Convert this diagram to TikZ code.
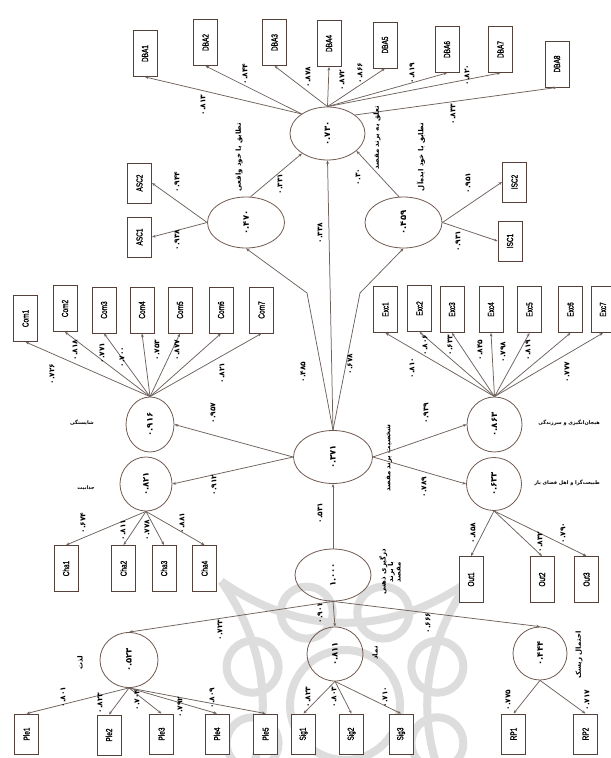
\documentclass[tikz,border=0pt]{standalone}
\usepackage{fontspec}
\usetikzlibrary{shapes.geometric,arrows.meta}
\TeXXeTstate=1
\newfontfamily\fa[Script=Arabic]{DejaVu Sans}
\newfontfamily\narrow[FakeStretch=0.74,FakeBold=1.2]{Liberation Sans}
\newcommand\rot[1]{\rotatebox{90}{#1}}
\newcommand\fatxt[1]{\fa\beginR #1\endR}
\definecolor{linec}{HTML}{6E625C}
\definecolor{ellc}{HTML}{705A50}
\definecolor{boxc}{HTML}{54423A}
\definecolor{markc}{HTML}{DDDDDD}
\tikzset{
  link/.style={draw=linec, line width=0.75pt, -{Stealth[length=3.6pt,width=2.8pt]}},
  latent/.style={ellipse, draw=ellc, line width=0.8pt, inner sep=0, font=\fa\bfseries\fontsize{8.5}{9}\selectfont},
  ind/.style={rectangle, draw=boxc, line width=0.9pt, minimum width=24bp, minimum height=46bp, inner sep=0, fill=white, font=\narrow\fontsize{8.8}{9}\selectfont},
  indshort/.style={ind, minimum height=40bp},
  coef/.style={rotate=90, font=\fa\bfseries\fontsize{7.5}{8}\selectfont, inner sep=0.5pt},
  fname/.style={rotate=90, font=\fa\bfseries\fontsize{7}{7.5}\selectfont, inner sep=0, align=center},
  hname/.style={font=\fa\bfseries\fontsize{5}{5.5}\selectfont, inner sep=0}
}
\begin{document}
\begin{tikzpicture}[x=1bp,y=-1bp]
\useasboundingbox (0,0) rectangle (611,758);
\fill[white] (0,0) rectangle (611,758);

% faint ornamental rosette in the background
\begin{scope}
  \clip (0,0) rectangle (611,758);
  \begin{scope}[draw=markc, line width=8bp]
    \foreach \a in {0,45,...,315}
      \draw (345,705) ++(\a+22.5:100) circle[radius=26];
    \foreach \a in {0,90,180,270}
      \draw ([shift={(\a+45:175)}]345,705) to[bend right=35] ([shift={(\a+135:175)}]345,705);
    \draw (345,705) circle[radius=55];
  \end{scope}
\end{scope}

% ---------- destination brand attachment block ----------
\node[latent, minimum width=75bp, minimum height=53bp] (dba) at (327.5,133.5) {\rot{۰.۷۳۰}};
\node[ind] (dba1) at (145,53.5) {\rot{DBA1}};
\node[ind] (dba2) at (205.5,42.5) {\rot{DBA2}};
\node[ind] (dba3) at (274.5,42.5) {\rot{DBA3}};
\node[ind] (dba4) at (329,43.5) {\rot{DBA4}};
\node[ind] (dba5) at (385,45) {\rot{DBA5}};
\node[ind] (dba6) at (447,49.5) {\rot{DBA6}};
\node[ind] (dba7) at (500.5,49.5) {\rot{DBA7}};
\node[ind] (dba8) at (557,64) {\rot{DBA8}};
\draw[link] (dba.143) -- (dba1.south);
\draw[link] (dba.143) -- (dba2.south);
\draw[link] (dba.north) -- (dba3.south);
\draw[link] (dba.north) -- (dba4.south);
\draw[link] (dba.north) -- (dba5.south);
\draw[link] (dba.north) -- (dba6.south);
\draw[link] (dba.north) -- (dba7.south);
\draw[link] (dba.34) -- (dba8.south);
\node[coef] at (203,105) {۰.۸۱۳};
\node[coef] at (245,74) {۰.۸۴۴};
\node[coef] at (308,77) {۰.۸۷۸};
\node[coef] at (342,80) {۰.۸۷۲};
\node[coef] at (360,73) {۰.۸۶۶};
\node[coef] at (412,73) {۰.۸۱۹};
\node[coef] at (467,75) {۰.۸۲۰};
\node[coef] at (453,114) {۰.۸۳۳};
\node[fname] at (377,138) {\fatxt{تعلق به برند مقصد}};

% ---------- self-congruence blocks ----------
\node[latent, minimum width=77bp, minimum height=51bp] (asc) at (246,222.5) {\rot{۰.۴۷۰}};
\node[indshort] (asc1) at (139.5,237) {\rot{ASC1}};
\node[indshort] (asc2) at (139.5,183) {\rot{ASC2}};
\draw[link] (asc.west) -- (asc1.east);
\draw[link] (asc.west) -- (asc2.east);
\node[coef] at (177,240) {۰.۹۳۸};
\node[coef] at (177,182) {۰.۹۴۴};
\draw[link] (asc.80) -- (dba.218);
\node[coef] at (280,184) {۰.۳۳۱};
\node[fname] at (239,157) {\fatxt{تطابق با خود واقعی}};

\node[latent, minimum width=77bp, minimum height=51bp] (isc) at (403.5,222.5) {\rot{۰.۴۵۹}};
\node[indshort] (isc1) at (510,241) {\rot{ISC1}};
\node[indshort] (isc2) at (514.5,182) {\rot{ISC2}};
\draw[link] (isc.east) -- (isc1.west);
\draw[link] (isc.east) -- (isc2.west);
\node[coef] at (458,241) {۰.۹۳۱};
\node[coef] at (468,183) {۰.۹۵۱};
\draw[link] (isc.100) -- (dba.-31);
\node[coef] at (358,177) {۰.۳۰};
\node[fname] at (421,157) {\fatxt{تطابق با خود ایده‌آل}};

% ---------- destination brand personality ----------
\node[latent, minimum width=79bp, minimum height=53bp] (cen) at (333,457) {\rot{۰.۳۷۱}};
\node[fname] at (389,458) {\fatxt{شخصیت برند مقصد}};
\coordinate (bendA) at (307,293);
\coordinate (bendI) at (360,293);
\draw[link] (cen.north) -- (dba.south);
\draw[link] (cen.north) -- (bendA) -- (asc.south);
\draw[link] (cen.north) -- (bendI) -- (isc.south);
\node[coef] at (320,233) {۰.۳۳۸};
\node[coef] at (303,372) {۰.۴۸۵};
\node[coef] at (350,364) {۰.۶۷۸};

% competence
\node[latent, minimum width=48bp, minimum height=55bp] (com) at (150,424.5) {\rot{۰.۹۱۶}};
\node[hname] at (82,423) {\fatxt{شایستگی}};
\draw[link] (cen.west) -- (com.east);
\node[coef] at (213,413) {۰.۹۵۷};
\node[ind] (com1) at (25.5,318.5) {\rot{Com1}};
\node[ind] (com2) at (65,308.5) {\rot{Com2}};
\node[ind] (com3) at (104,310) {\rot{Com3}};
\node[ind] (com4) at (142,310) {\rot{Com4}};
\node[ind] (com5) at (180,310) {\rot{Com5}};
\node[ind] (com6) at (221,310) {\rot{Com6}};
\node[ind] (com7) at (261.5,310) {\rot{Com7}};
\foreach \i in {1,...,7} \draw[link] (com.north) -- (com\i.south);
\node[coef] at (52,374) {۰.۷۲۶};
\node[coef] at (75,350) {۰.۸۱۸};
\node[coef] at (102,353) {۰.۷۷۱};
\node[coef] at (122,357) {۰.۷۰۰};
\node[coef] at (157,350) {۰.۷۵۳};
\node[coef] at (177,350) {۰.۸۷۷};
\node[coef] at (222,373) {۰.۸۲۱};

% charm
\node[latent, minimum width=52bp, minimum height=54bp] (cha) at (146,484) {\rot{۰.۸۲۱}};
\node[hname] at (86,488) {\fatxt{جذابیت}};
\draw[link] (cen.west) -- (cha.east);
\node[coef] at (214,485) {۰.۹۱۲};
\node[ind] (cha1) at (66,568.5) {\rot{Cha1}};
\node[ind] (cha2) at (123.5,568.5) {\rot{Cha2}};
\node[ind] (cha3) at (164,568.5) {\rot{Cha3}};
\node[ind] (cha4) at (204.5,568.5) {\rot{Cha4}};
\foreach \i in {1,...,4} \draw[link] (cha.south) -- (cha\i.north);
\node[coef] at (83,523) {۰.۶۷۴};
\node[coef] at (123,530) {۰.۸۱۱};
\node[coef] at (147,530) {۰.۷۷۸};
\node[coef] at (182,523) {۰.۸۸۱};

% excitement
\node[latent, minimum width=55bp, minimum height=55bp] (exc) at (494.5,424.5) {\rot{۰.۸۶۳}};
\node[hname] at (569,423) {\fatxt{هیجان‌انگیزی و سرزندگی}};
\draw[link] (cen.east) -- (exc.west);
\node[coef] at (426,413) {۰.۹۳۹};
\node[ind] (exc1) at (385.5,309.5) {\rot{Exc1}};
\node[ind] (exc2) at (419.5,308.5) {\rot{Exc2}};
\node[ind] (exc3) at (452,309.5) {\rot{Exc3}};
\node[ind] (exc4) at (491,309.5) {\rot{Exc4}};
\node[ind] (exc5) at (529.5,309.5) {\rot{Exc5}};
\node[ind] (exc6) at (570.5,309.5) {\rot{Exc6}};
\node[ind] (exc7) at (603,309.5) {\rot{Exc7}};
\foreach \i in {1,...,7} \draw[link] (exc.north) -- (exc\i.south);
\node[coef] at (412,368) {۰.۸۱۰};
\node[coef] at (425,345) {۰.۸۰۶};
\node[coef] at (450,345) {۰.۶۳۳};
\node[coef] at (480,350) {۰.۸۴۵};
\node[coef] at (503,352) {۰.۷۹۸};
\node[coef] at (528,350) {۰.۸۱۹};
\node[coef] at (567,372) {۰.۷۷۷};

% outdoorsiness
\node[latent, minimum width=55bp, minimum height=53bp] (out) at (494,484) {\rot{۰.۶۳۳}};
\node[hname] at (567,483) {\fatxt{طبیعت‌گرا و اهل فضای باز}};
\draw[link] (cen.east) -- (out.west);
\node[coef] at (424,487) {۰.۷۸۹};
\node[ind] (out1) at (471,579.5) {\rot{Out1}};
\node[ind] (out2) at (542,579.5) {\rot{Out2}};
\node[ind] (out3) at (586.5,579.5) {\rot{Out3}};
\foreach \i in {1,...,3} \draw[link] (out.south) -- (out\i.north);
\node[coef] at (473,533) {۰.۸۵۸};
\node[coef] at (540,542) {۰.۸۳۲};
\node[coef] at (563,533) {۰.۷۹۰};

% ---------- brand involvement ----------
\node[latent, minimum width=76bp, minimum height=52bp] (ant) at (333,575) {\rot{۱.۰۰۰}};
\node[fname] at (390,572) {\fatxt{درگیری ذهنی}\\\fatxt{با برند}\\\fatxt{مقصد}};
\draw[link] (ant.north) -- (cen.south);
\node[coef] at (320,513) {۰.۵۳۱};

\node[latent, minimum width=58bp, minimum height=55bp] (ple) at (129,660) {\rot{۰.۵۲۳}};
\node[latent, minimum width=56bp, minimum height=54bp] (sig) at (335,654) {\rot{۰.۸۱۱}};
\node[latent, minimum width=54bp, minimum height=53bp] (rp) at (540,653.5) {\rot{۰.۴۴۴}};
\node[fname] at (80,663) {\fatxt{لذت}};
\node[fname] at (375,653) {\fatxt{نماد}};
\node[fname] at (579,655) {\fatxt{احتمال ریسک}};
\draw[link] (ant.south) -- (ple.north);
\draw[link] (ant.south) -- (sig.north);
\draw[link] (ant.south) -- (rp.north);
\node[coef] at (220,630) {۰.۷۲۳};
\node[coef] at (320,613) {۰.۹۰۱};
\node[coef] at (428,623) {۰.۶۶۶};

\node[indshort] (ple1) at (26.5,734) {\rot{Ple1}};
\node[indshort] (ple2) at (109,735) {\rot{Ple2}};
\node[indshort] (ple3) at (161.5,734) {\rot{Ple3}};
\node[indshort] (ple4) at (217,734) {\rot{Ple4}};
\node[indshort] (ple5) at (265.5,734) {\rot{Ple5}};
\foreach \i in {1,...,5} \draw[link] (ple.south) -- (ple\i.north);
\node[coef] at (63,697) {۰.۸۰۱};
\node[coef] at (100,703) {۰.۸۲۳};
\node[coef] at (137,700) {۰.۷۰۴};
\node[coef] at (180,707) {۰.۷۹۲};
\node[coef] at (212,698) {۰.۸۰۹};

\node[indshort] (sig1) at (303.5,734) {\rot{Sig1}};
\node[indshort] (sig2) at (351.5,734) {\rot{Sig2}};
\node[indshort] (sig3) at (401,734) {\rot{Sig3}};
\foreach \i in {1,...,3} \draw[link] (sig.south) -- (sig\i.north);
\node[coef] at (308,697) {۰.۸۲۳};
\node[coef] at (334,697) {۰.۸۰۳};
\node[coef] at (385,697) {۰.۷۱۰};

\node[indshort] (rp1) at (513.5,734) {\rot{RP1}};
\node[indshort] (rp2) at (585.5,734) {\rot{RP2}};
\foreach \i in {1,2} \draw[link] (rp.south) -- (rp\i.north);
\node[coef] at (508,700) {۰.۷۷۵};
\node[coef] at (587,700) {۰.۷۱۷};
\end{tikzpicture}
\end{document}
